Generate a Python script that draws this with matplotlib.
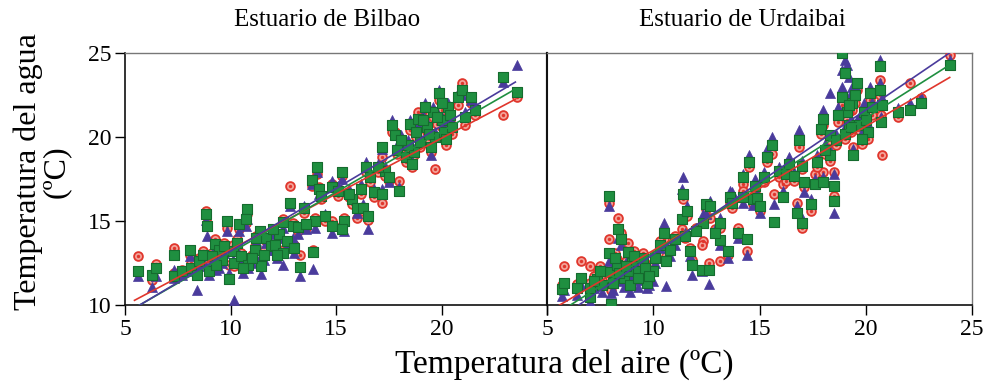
import numpy as np
import matplotlib
matplotlib.use("Agg")
import matplotlib.pyplot as plt

plt.rcParams['font.family'] = ['Liberation Serif', 'DejaVu Serif']

# ---------------- data ----------------
panel_titles = ["Estuario de Bilbao", "Estuario de Urdaibai"]
y_label = "Temperatura del agua\n(\u00baC)"
x_label = "Temperatura del aire (\u00baC)"
x_ticks_left = [5, 10, 15, 20]
x_ticks_right = [5, 10, 15, 20, 25]
y_ticks = [10, 15, 20, 25]

# Bilbao: air temperature and water temperature for three series
bil_air = [5.6, 6.3, 6.45, 7.3, 7.3, 7.7, 8.1, 8.15, 8.4, 8.5, 8.85, 8.9, 9.0, 9.25, 9.45,
           9.6, 9.85, 9.95, 10.1, 10.15, 10.4, 10.5, 10.8, 10.75, 10.85, 11.15, 11.4, 11.45,
           11.7, 11.9, 12.1, 12.3, 12.5, 12.5, 12.8, 12.95, 13.2, 13.3, 13.5, 13.85, 13.9,
           14.1, 14.2, 14.0, 14.5, 14.8, 14.8, 15.1, 15.3, 15.4, 15.3, 15.75, 16.0, 16.3,
           16.4, 16.5, 16.6, 16.8, 17.2, 17.2, 17.3, 17.5, 17.65, 17.8, 17.9, 18.0, 18.3,
           18.5, 18.6, 18.7, 18.9, 19.0, 19.3, 19.5, 19.6, 19.7, 19.9, 20.0, 20.1, 20.2,
           20.3, 20.5, 20.8, 20.96, 21.1, 21.4, 21.6, 22.9, 23.6,
           8.7, 9.1, 9.3, 9.7, 10.3, 10.6, 11.0, 11.2, 11.6, 12.0, 12.2, 12.7, 13.0,
           18.8, 19.1, 19.2, 19.4, 19.8, 20.0, 20.4, 18.4, 18.1, 17.0, 16.2, 15.6, 14.3, 13.6]
bil_green = [12.0, 11.8, 12.2, 13.0, 11.75, 12.0, 13.3, 12.2, 11.8, 12.6, 15.4, 14.7, 12.0, 13.65, 13.3,
             12.7, 15.0, 11.55, 13.2, 12.5, 14.8, 12.9, 15.7, 15.1, 12.4, 13.25, 14.4, 12.35,
             14.0, 13.5, 13.55, 14.2, 14.95, 13.1, 16.1, 14.7, 14.65, 12.25, 15.8, 17.45, 13.15,
             18.2, 16.9, 15.0, 15.3, 14.7, 17.0, 16.8, 17.9, 15.0, 14.5, 16.3, 15.8, 15.8,
             18.2, 15.3, 17.6, 16.7, 16.6, 19.4, 18.0, 17.6, 20.7, 20.1, 19.2, 16.8, 18.8,
             20.75, 18.4, 19.1, 21.1, 19.7, 20.6, 19.4, 21.5, 20.0, 22.6, 21.0, 20.3, 19.9,
             21.8, 20.6, 22.4, 22.8, 21.2, 22.4, 21.6, 23.6, 22.7,
             13.0, 12.9, 12.4, 13.5, 13.7, 12.2, 12.8, 14.0, 13.0, 14.5, 13.0, 13.8, 13.4,
             20.3, 21.0, 21.8, 20.2, 21.2, 22.0, 21.3, 19.5, 19.8, 18.2, 16.9, 16.6, 16.5, 14.8]
bil_red = [12.9, 11.5, 12.45, 13.4, 11.9, 12.1, 13.0, 12.5, 12.1, 12.8, 15.6, 14.9, 12.3, 13.9, 13.5,
           12.9, 14.6, 12.4, 13.6, 12.3, 14.5, 13.1, 15.4, 14.9, 12.6, 13.5, 14.2, 12.6,
           13.8, 13.7, 13.9, 14.0, 15.1, 13.3, 17.1, 14.9, 14.4, 12.95, 15.5, 17.1, 13.3,
           17.8, 17.0, 15.2, 15.0, 15.0, 17.2, 16.5, 17.7, 15.2, 14.7, 16.0, 15.2, 15.6,
           17.9, 15.05, 17.3, 16.4, 16.05, 18.8, 17.7, 17.4, 20.3, 20.3, 19.0, 17.4, 18.5,
           20.4, 18.2, 18.9, 21.5, 19.4, 20.3, 19.1, 21.2, 18.1, 22.2, 20.6, 19.9, 19.5,
           21.3, 20.2, 21.9, 23.2, 20.7, 22.0, 21.3, 21.3, 22.4,
           13.2, 13.1, 12.6, 13.7, 13.9, 12.4, 13.0, 14.1, 13.2, 14.3, 13.2, 13.6, 13.6,
           20.0, 20.7, 21.4, 19.9, 20.8, 21.6, 20.9, 19.2, 19.6, 17.9, 16.6, 16.4, 16.3, 14.6]
bil_blue = [11.7, 11.05, 11.7, 12.1, 11.6, 11.8, 12.9, 12.0, 10.9, 12.3, 15.05, 14.1, 11.8, 13.4, 12.2,
            12.5, 14.4, 11.9, 12.7, 10.3, 14.4, 12.6, 15.1, 14.7, 12.2, 12.9, 14.1, 11.85,
            13.7, 13.3, 13.3, 14.0, 14.6, 12.4, 15.9, 14.0, 14.2, 11.7, 15.9, 17.2, 12.15,
            17.9, 16.6, 14.6, 15.4, 14.3, 17.4, 17.1, 17.5, 14.4, 14.8, 16.5, 15.5, 16.0,
            18.5, 14.5, 17.9, 16.9, 16.9, 19.3, 18.3, 17.3, 21.0, 20.4, 19.5, 17.0, 19.0,
            21.0, 18.6, 19.3, 20.8, 20.0, 20.9, 18.9, 21.8, 20.3, 22.8, 21.2, 20.6, 20.1,
            22.0, 20.9, 22.6, 22.5, 21.5, 22.2, 21.9, 23.3, 24.3,
            12.6, 12.5, 12.1, 13.1, 13.3, 11.9, 12.5, 13.8, 12.7, 14.2, 12.8, 13.5, 13.1,
            20.5, 21.3, 22.0, 20.5, 21.5, 22.3, 21.6, 19.8, 20.1, 18.4, 17.2, 16.9, 16.8, 14.5]

# Urdaibai
urd_air = [5.7, 5.8, 6.4, 6.6, 7.0, 7.0, 7.35, 7.6, 7.9, 7.9, 7.95, 8.0, 8.3, 8.35, 8.5, 8.6,
           8.8, 8.8, 9.0, 9.26, 9.5, 9.7, 9.97, 10.1, 10.5, 10.6, 10.8, 11.35, 11.4, 11.5,
           11.75, 11.8, 12.35, 12.3, 12.5, 12.6, 12.66, 13.14, 13.15, 13.5, 13.6, 13.7, 14.0,
           14.2, 14.2, 14.4, 14.5, 14.7, 14.9, 15.0, 15.37, 15.6, 15.7, 15.9, 16.1, 16.25,
           16.6, 16.75, 16.84, 17.0, 17.0, 17.1, 17.4, 17.6, 17.9, 18.0, 18.0, 18.3, 18.3,
           18.5, 18.5, 18.6, 18.86, 19.0, 19.1, 19.2, 19.35, 19.4, 19.6, 19.7, 19.9, 20.1,
           20.3, 20.65, 20.66, 20.7, 20.75, 21.5, 22.1, 22.6, 23.97,
           7.2, 7.5, 8.1, 8.2, 8.4, 8.7, 8.9, 9.1, 9.3, 9.6, 9.8, 10.3, 11.0, 11.6, 12.0, 12.9,
           18.7, 18.9, 19.0, 19.2, 19.3, 19.5, 19.8, 20.0, 20.2, 18.1, 17.7, 16.4, 15.2, 14.8]
urd_green = [10.95, 11.3, 11.0, 11.6, 10.45, 11.0, 11.55, 11.2, 16.5, 13.1, 11.95, 10.05, 12.4, 14.55, 13.9, 11.6,
             13.15, 12.0, 12.5, 12.0, 12.8, 11.3, 12.05, 12.8, 14.3, 12.6, 13.3, 15.1, 16.6, 14.1,
             13.2, 12.4, 14.9, 12.1, 16.0, 12.1, 15.9, 13.85, 14.9, 13.2, 16.4, 16.1, 14.3,
             17.6, 16.4, 13.9, 18.5, 16.3, 16.35, 15.9, 18.8, 19.5, 14.95, 18.0, 16.45, 17.8,
             17.7, 15.5, 19.8, 18.3, 14.9, 17.3, 16.0, 17.2, 20.5, 21.1, 17.3, 20.1, 18.9,
             17.1, 16.2, 19.8, 25.0, 23.8, 21.5, 20.7, 22.0, 18.9, 23.2, 20.7, 21.5, 20.3,
             21.8, 24.2, 22.8, 20.9, 21.9, 21.5, 21.6, 22.0, 24.3,
             11.4, 12.0, 11.3, 12.8, 11.9, 12.3, 11.2, 12.9, 11.6, 12.2, 11.7, 13.6, 13.9, 15.6, 14.4, 14.3,
             21.3, 22.4, 20.2, 21.9, 20.6, 22.5, 19.9, 21.0, 22.6, 19.2, 18.5, 18.4, 17.6, 17.1]
urd_red = [11.2, 12.3, 11.25, 12.6, 12.3, 11.3, 11.9, 11.5, 16.1, 13.9, 12.2, 10.9, 12.75, 15.2, 14.3, 11.9,
           13.7, 12.4, 12.7, 12.3, 13.1, 11.6, 12.4, 13.0, 13.9, 12.9, 13.5, 14.5, 16.3, 14.0,
           13.4, 12.7, 13.8, 13.6, 15.7, 12.5, 15.2, 12.6, 14.6, 13.0, 16.1, 15.8, 14.6,
           17.2, 16.8, 13.2, 18.2, 16.0, 16.1, 15.6, 18.5, 19.0, 16.6, 17.6, 17.2, 17.4,
           17.4, 16.1, 19.4, 18.1, 14.6, 17.0, 15.6, 17.8, 20.2, 20.7, 17.9, 19.8, 18.6,
           17.9, 16.5, 19.5, 22.4, 22.0, 21.0, 20.3, 21.6, 19.4, 22.8, 20.4, 21.1, 19.9,
           21.3, 23.4, 22.5, 21.3, 18.9, 21.2, 23.2, 22.3, 24.9,
           11.7, 12.3, 11.7, 13.1, 12.2, 12.6, 11.6, 13.2, 11.9, 12.5, 12.0, 13.8, 14.1, 15.3, 14.6, 14.5,
           20.9, 21.9, 19.9, 21.5, 20.3, 22.0, 19.6, 20.6, 22.2, 19.0, 18.2, 18.0, 17.3, 16.8]
urd_blue = [10.55, 10.9, 10.6, 11.2, 10.2, 10.7, 11.2, 10.8, 15.9, 12.6, 11.5, 10.7, 12.1, 14.0, 13.6, 11.1,
            12.8, 11.35, 11.6, 11.5, 12.4, 11.0, 11.4, 12.5, 14.9, 11.15, 12.9, 16.9, 17.6, 14.3,
            12.9, 11.8, 15.4, 12.0, 15.4, 11.25, 16.2, 13.6, 15.2, 12.8, 16.8, 16.7, 14.0,
            17.8, 16.1, 13.0, 18.9, 15.95, 16.6, 15.5, 19.3, 20.0, 16.0, 18.2, 16.8, 18.2,
            17.9, 15.9, 20.4, 18.6, 15.2, 16.7, 16.3, 17.5, 20.8, 21.6, 17.6, 22.6, 19.2,
            17.8, 15.45, 20.2, 24.0, 24.6, 24.3, 23.6, 23.0, 19.3, 21.0, 21.2, 22.0, 20.8,
            22.1, 24.6, 23.2, 21.2, 22.3, 21.7, 22.0, 22.4, 24.6,
            11.0, 11.6, 10.9, 12.5, 11.4, 11.8, 10.8, 12.6, 11.1, 11.7, 11.2, 13.4, 13.6, 15.9, 14.6, 14.5,
            21.8, 23.0, 20.6, 22.4, 21.1, 23.1, 20.3, 21.5, 23.0, 19.6, 18.9, 18.8, 17.9, 17.5]

# regression lines (slope, intercept) and air-temperature extent per panel
bil_fit = {"red": (0.663, 6.665), "blue": (0.7455, 5.75), "green": (0.722, 5.885)}
urd_fit = {"red": (0.738, 5.87), "blue": (0.86, 4.41), "green": (0.801, 5.11)}
bil_line_range = (5.45, 23.5)
urd_line_range = (5.55, 23.95)

# ---------------- style ----------------
RED = "#e0362c"
BLUE = "#4a3b9c"
GREEN = "#1f8f40"
GREEN_EDGE = "#156b2e"

fig = plt.figure(figsize=(9.86, 3.87), dpi=100)
ax1 = fig.add_axes([125/986, 1-305/387, 422/986, 252/387])
ax2 = fig.add_axes([547/986, 1-305/387, 425/986, 252/387])

panels = [
    (ax1, bil_air, bil_red, bil_blue, bil_green, bil_fit, bil_line_range),
    (ax2, urd_air, urd_red, urd_blue, urd_green, urd_fit, urd_line_range),
]

for ax, air, red, blue, green, fit, lr in panels:
    air = np.asarray(air)
    ax.scatter(air, red, s=40, marker='o', facecolor='#f3a39a', edgecolor=RED,
               linewidth=1.3, zorder=3)
    ax.scatter(air, red, s=6, marker='o', color=RED, linewidth=0, zorder=3)
    ax.scatter(air, blue, s=52, marker='^', color=BLUE, linewidth=0.5, edgecolor=BLUE, zorder=4)
    ax.scatter(air, green, s=46, marker='s', facecolor=GREEN, edgecolor=GREEN_EDGE,
               linewidth=0.8, zorder=5)
    xs = np.linspace(lr[0], lr[1], 50)
    for key, col in (("red", RED), ("green", GREEN), ("blue", BLUE)):
        m, b = fit[key]
        ax.plot(xs, m * xs + b, color=col, lw=1.2, zorder=6)
    ax.set_xlim(5, 25)
    ax.set_ylim(10, 25)
    ax.tick_params(direction='out', length=7, width=1, labelsize=17, pad=3)
    for sp in ('top', 'right'):
        ax.spines[sp].set_color('#777777')
        ax.spines[sp].set_linewidth(1.0)
    for sp in ('left', 'bottom'):
        ax.spines[sp].set_linewidth(1.2)
        ax.spines[sp].set_color('#111111')

ax1.set_xticks(x_ticks_left + [25])
ax1.set_xticklabels([str(t) for t in x_ticks_left] + [""])
ax1.set_yticks(y_ticks)
ax1.set_yticklabels([str(t) for t in y_ticks])
ax1.spines['right'].set_color('#111111')
ax1.spines['right'].set_linewidth(1.5)

ax2.set_xticks(x_ticks_right)
ax2.set_xticklabels([str(t) for t in x_ticks_right])
ax2.set_yticks([])
ax2.spines['left'].set_linewidth(1.5)

fig.text(327/986, 1-20/387, panel_titles[0], ha='center', va='center', fontsize=18)
fig.text(742/986, 1-20/387, panel_titles[1], ha='center', va='center', fontsize=18)
fig.text(42/986, 1-172/387, y_label, ha='center', va='center', rotation=90,
         multialignment='center', fontsize=23, linespacing=0.95)
fig.text(564/986, 1-364/387, x_label, ha='center', va='center', fontsize=24)

fig.savefig("out.png", dpi=100)
